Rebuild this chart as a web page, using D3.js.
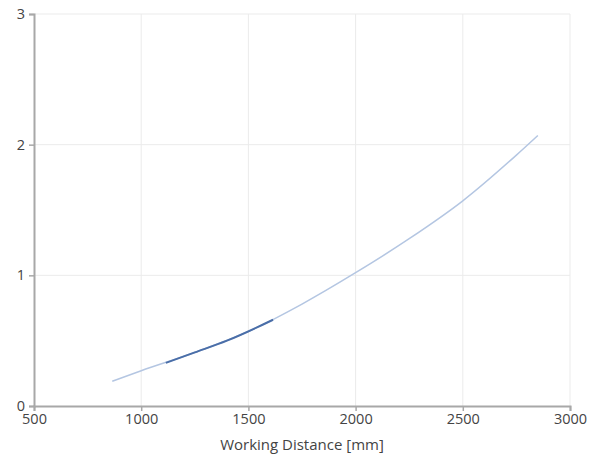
<!DOCTYPE html>
<html><head><meta charset="utf-8">
<script src="https://cdn.jsdelivr.net/npm/d3@7"></script>
<style>body{margin:0;background:#fff}svg{display:block}</style>
</head><body><svg id="c" width="601" height="454"></svg>
<script>
const xTicks = [500, 1000, 1500, 2000, 2500, 3000];
const yTicks = [0, 1, 2, 3];
const fullX = [865, 1000, 1250, 1500, 1750, 2000, 2250, 2500, 2750, 2850];
const fullY = [0.19, 0.27, 0.41, 0.57, 0.78, 1.02, 1.28, 1.57, 1.92, 2.07];
const hiX = [1115, 1250, 1400, 1615];
const hiY = [0.33, 0.41, 0.50, 0.66];
const xTitle = "Working Distance [mm]";

const svg = d3.select("#c");
const x = d3.scaleLinear().domain([500, 3000]).range([34, 570]);
const y = d3.scaleLinear().domain([0, 3]).range([406, 14]);
const font = "'Open Sans', 'DejaVu Sans', sans-serif";

// grid
svg.append("g").selectAll("line").data(xTicks.slice(1)).join("line")
  .attr("x1", d => x(d)).attr("x2", d => x(d)).attr("y1", y(3)).attr("y2", y(0))
  .attr("stroke", "#ebebeb").attr("stroke-width", 1);
svg.append("g").selectAll("line").data(yTicks.slice(1)).join("line")
  .attr("x1", x(500)).attr("x2", x(3000)).attr("y1", d => y(d)).attr("y2", d => y(d))
  .attr("stroke", "#ebebeb").attr("stroke-width", 1);

// axes
const xa = svg.append("g").attr("transform", `translate(0,${y(0)})`)
  .call(d3.axisBottom(x).tickValues(xTicks).tickSize(5).tickPadding(3).tickFormat(d3.format("d")));
const ya = svg.append("g").attr("transform", `translate(${x(500)},0)`)
  .call(d3.axisLeft(y).tickValues(yTicks).tickSize(5).tickPadding(4).tickFormat(d3.format("d")));
[xa, ya].forEach(a => {
  a.select(".domain").attr("stroke", "#a8a8a8").attr("stroke-width", 2);
  a.selectAll(".tick line").attr("stroke", "#a8a8a8").attr("stroke-width", 1.5);
  a.selectAll("text").attr("fill", "#444").style("font-family", font).style("font-size", "14.5px");
});

svg.append("text").attr("x", 302).attr("y", 450).attr("text-anchor", "middle")
  .attr("fill", "#444").style("font-family", font).style("font-size", "15px").text(xTitle);

const line = d3.line().x(d => x(d[0])).y(d => y(d[1])).curve(d3.curveMonotoneX);
svg.append("path").datum(fullX.map((v, i) => [v, fullY[i]]))
  .attr("d", line).attr("fill", "none").attr("stroke", "#b4c6e2").attr("stroke-width", 1.5);
svg.append("path").datum(hiX.map((v, i) => [v, hiY[i]]))
  .attr("d", line).attr("fill", "none").attr("stroke", "#4a6ea8").attr("stroke-width", 2);
</script></body></html>
